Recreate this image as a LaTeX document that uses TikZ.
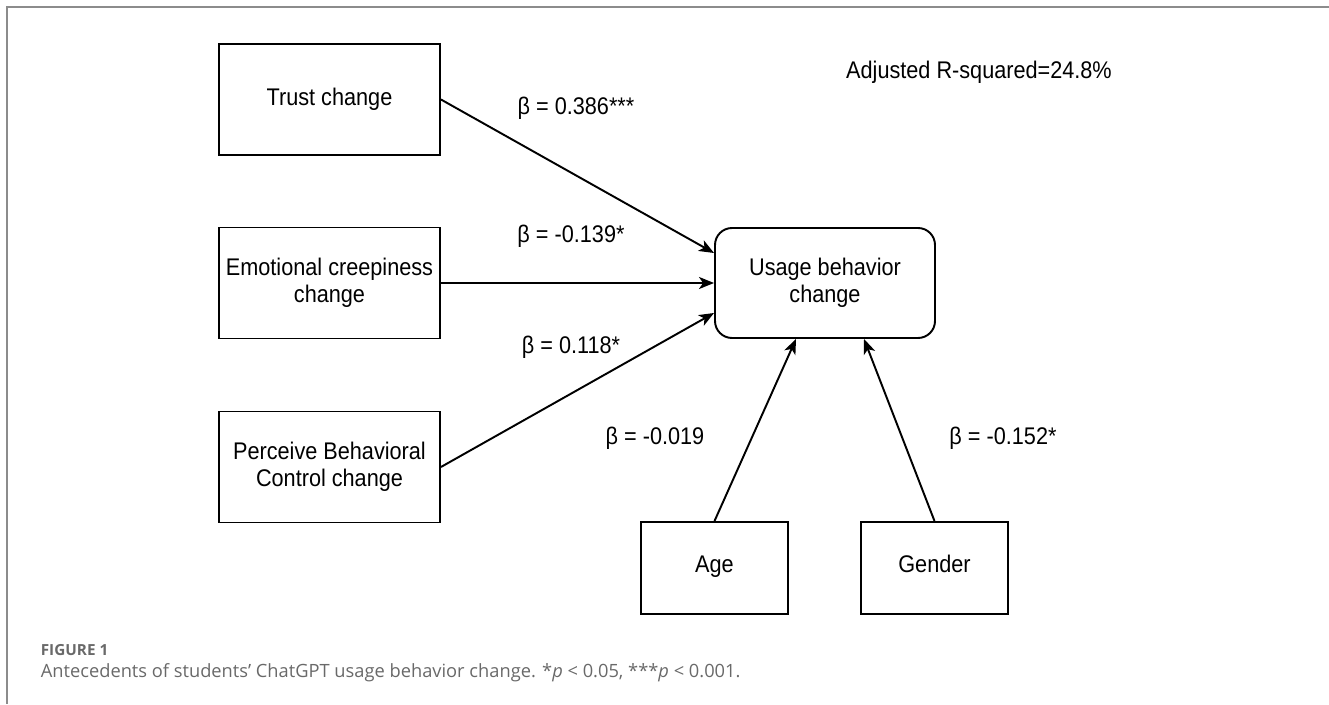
\documentclass[tikz,border=0pt]{standalone}
\usepackage{fontspec}
\usepackage{tikz}
\usetikzlibrary{arrows.meta}
\newfontfamily\diagfont{Liberation Sans}[FakeStretch=0.9]
\newfontfamily\capfont{Open Sans}
\definecolor{framegray}{RGB}{140,140,140}
\definecolor{capgray}{RGB}{105,105,105}

\begin{document}
\begin{tikzpicture}[
    varbox/.style={draw, line width=1.1pt, minimum width=4.42cm, minimum height=2.22cm, align=center, font=\diagfont\fontsize{13.7}{15.3}\selectfont},
    ctrlbox/.style={varbox, minimum width=2.94cm, minimum height=1.84cm, text height=0.72em, text depth=0.21em},
    coef/.style={font=\diagfont\fontsize{13.7}{15.3}\selectfont},
    link/.style={-{Stealth[length=0.3cm, width=0.24cm, inset=0.08cm]}, line width=1.1pt}
]
    \useasboundingbox (0,0) rectangle (26.58,14.08);

    % Frame
    \draw[framegray, line width=1.2pt] (26.58,13.934) -- (0.146,13.934) -- (0.146,0);

    % Predictor boxes
    \node[varbox] (trust) at (6.59,12.09) {Trust change};
    \node[varbox] (creepy) at (6.59,8.42) {Emotional creepiness\\change};
    \node[varbox] (pbc) at (6.59,4.74) {Perceive Behavioral\\Control change};

    % Outcome box
    \node[varbox, rounded corners=0.34cm, minimum width=4.4cm, minimum height=2.2cm] (usage) at (16.5,8.42) {Usage behavior\\change};

    % Control boxes
    \node[ctrlbox] (age) at (14.29,2.72) {Age};
    \node[ctrlbox] (gender) at (18.69,2.72) {Gender};

    % Paths
    \draw[link] (trust.east) -- ([yshift=0.6cm]usage.west);
    \draw[link] (creepy.east) -- (usage.west);
    \draw[link] (pbc.east) -- ([yshift=-0.6cm]usage.west);
    \draw[link] (age.north) -- ([xshift=-0.58cm]usage.south);
    \draw[link] (gender.north) -- ([xshift=0.78cm]usage.south);

    % Coefficients
    \node[coef] (b386) at (11.52,11.92) {β = 0.386***};
    \node[coef] (b139) at (11.42,9.36) {β = -0.139*};
    \node[coef] (b118) at (11.42,7.14) {β = 0.118*};
    \node[coef] (b019) at (13.1,5.32) {β = -0.019};
    \node[coef] (b152) at (20.06,5.32) {β = -0.152*};

    % Model fit
    \node[coef] (rsq) at (19.58,12.64) {Adjusted R-squared=24.8\%};

    % Caption
    \node[anchor=west, inner sep=0pt, text=capgray, font=\capfont\bfseries\fontsize{8.7}{10}\selectfont] (figlabel) at (0.81,1.08) {FIGURE 1};
    \node[anchor=west, inner sep=0pt, text=capgray, font=\capfont\fontsize{10.4}{12}\selectfont] (caption) at (0.81,0.62) {Antecedents of students’ ChatGPT usage behavior change. *\textit{p} < 0.05, ***\textit{p} < 0.001.};
\end{tikzpicture}
\end{document}
